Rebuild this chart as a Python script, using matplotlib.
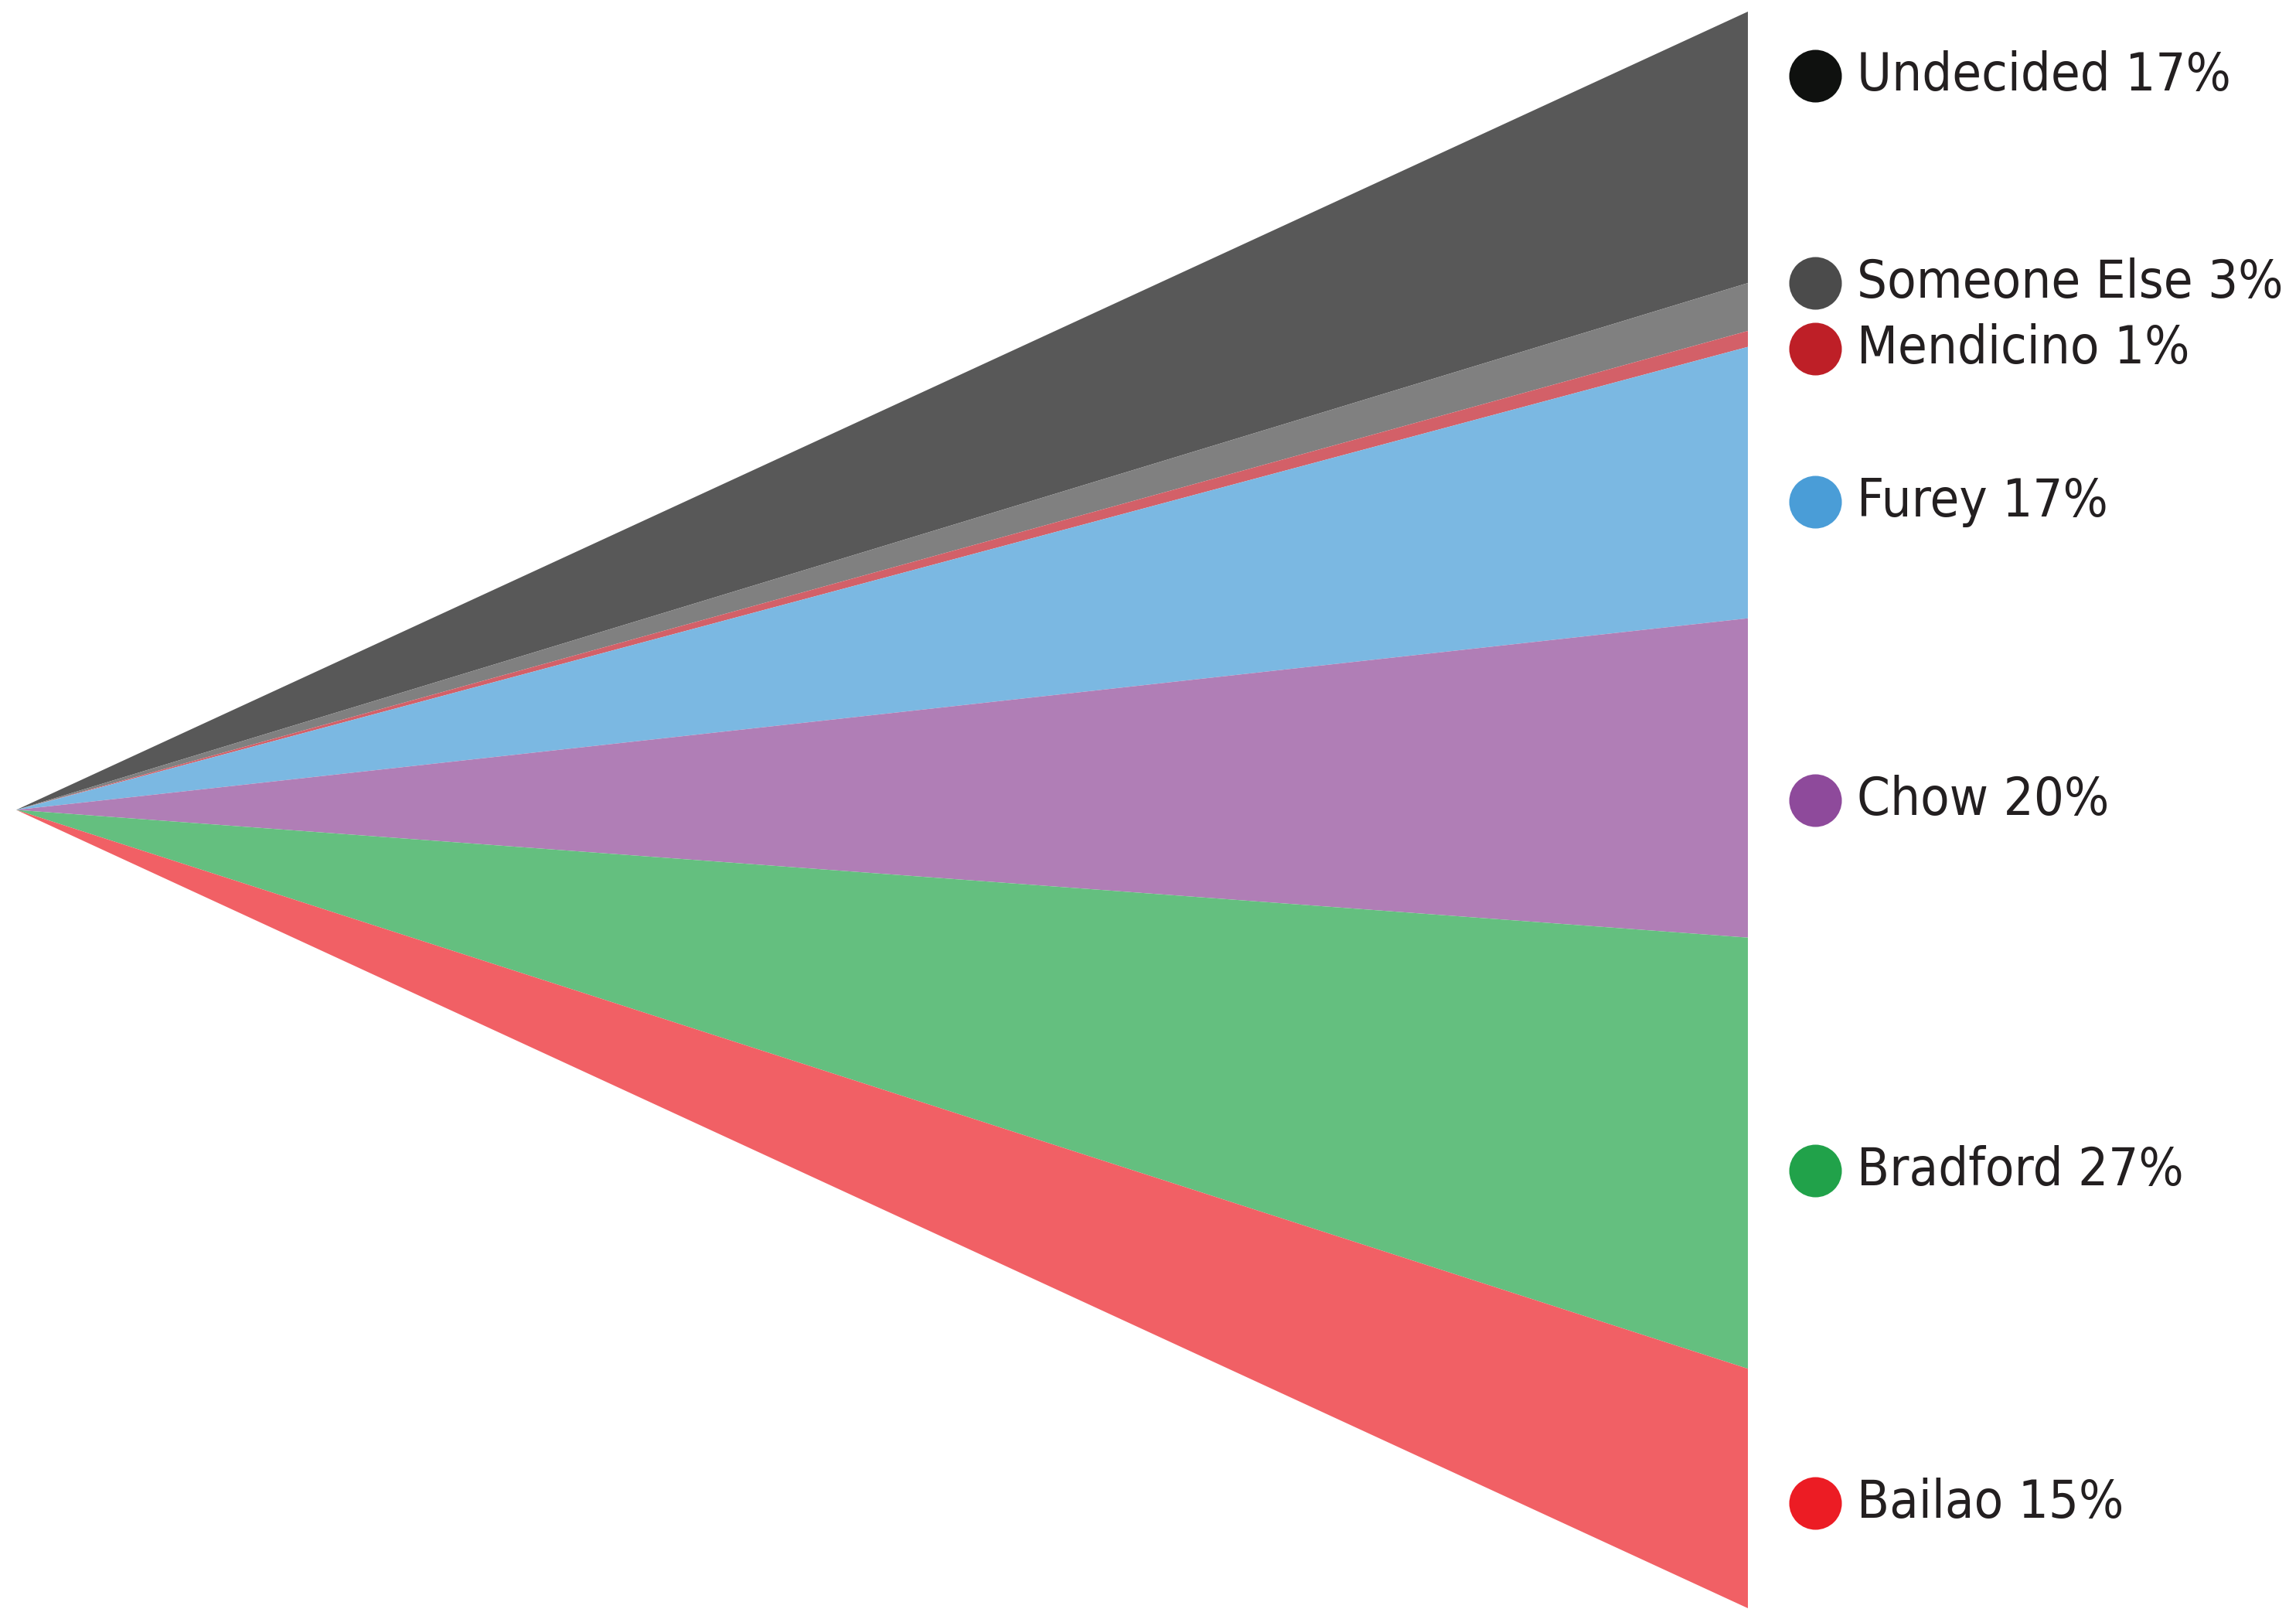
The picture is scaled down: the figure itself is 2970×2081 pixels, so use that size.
import numpy as np
import matplotlib
matplotlib.use("Agg")
import matplotlib.pyplot as plt

# poll shares, top to bottom
names = ["Undecided", "Someone Else", "Mendicino", "Furey", "Chow", "Bradford", "Bailao"]
shares = [17, 3, 1, 17, 20, 27, 15]
fill_colors = ["#585858", "#808080", "#d36068", "#7bb8e2", "#b07eb6", "#64bf7f", "#f16065"]
dot_colors = ["#0f110f", "#4b4b4b", "#be1f27", "#4a9dd7", "#8e4a9b", "#21a24a", "#ec1c24"]

# where each label sits (in % down the right edge), hand placed like the original
label_pos = [4.0, 17.0, 21.1, 30.7, 49.4, 72.6, 93.4]

fig = plt.figure(figsize=(29.7, 20.81), dpi=100)
ax = fig.add_axes([21/2970, 1/2081, 2240/2970, 2065/2081])
ax.set_xlim(0, 1)
ax.set_ylim(100, 0)
ax.axis("off")

#---------> fan wedges from the apex to the right edge
total = sum(shares)
edges = np.concatenate([[0], np.cumsum(shares)]) / total * 100
apex = 50
for ii in range(len(shares)):
  ax.fill([0, 1, 1], [apex, edges[ii], edges[ii+1]], color=fill_colors[ii], lw=0)

#---------> labels with coloured dots
for ii in range(len(names)):
  ax.scatter(1.039, label_pos[ii], s=2400, color=dot_colors[ii], clip_on=False, lw=0)
  ax.text(1.063, label_pos[ii], f"{names[ii]} {shares[ii]}%", fontsize=49.2, color="#231f20",
          va="center", ha="left", family="DejaVu Sans", fontstretch="condensed")

fig.savefig("out.png", dpi=100)
